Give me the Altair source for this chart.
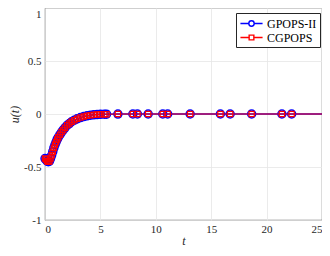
import altair as alt
import pandas as pd

series = ["GPOPS-II", "CGPOPS"]
colors = ["#0000ff", "#ff0000"]

t_vals = [0.0, 0.1, 0.2, 0.3, 0.4, 0.5, 0.6, 0.7, 0.8, 0.9, 1.0, 1.1, 1.2,
          1.35, 1.5, 1.65, 1.8, 2.0, 2.2, 2.4, 2.65, 2.9, 3.2, 3.5, 3.8,
          4.1, 4.4, 4.7, 5.0, 5.35, 5.55, 6.58, 7.93, 8.34, 9.31, 10.63,
          11.07, 13.1, 15.83, 16.71, 18.65, 21.38, 22.26, 25.0]
u_gpops = [-0.42, -0.43, -0.445, -0.45, -0.445, -0.42, -0.39, -0.355, -0.32,
           -0.29, -0.265, -0.24, -0.22, -0.195, -0.17, -0.15, -0.13, -0.106,
           -0.09, -0.073, -0.058, -0.045, -0.034, -0.024, -0.017, -0.011,
           -0.008, -0.005, -0.003, -0.002, -0.0015, -0.0005, 0.0, 0.0, 0.0,
           0.0, 0.0, 0.0, 0.0, 0.0, 0.0, 0.0, 0.0, 0.0]
u_cgpops = [-0.42, -0.43, -0.445, -0.45, -0.445, -0.42, -0.39, -0.355, -0.32,
            -0.29, -0.265, -0.24, -0.22, -0.195, -0.17, -0.15, -0.13, -0.106,
            -0.09, -0.073, -0.058, -0.045, -0.034, -0.024, -0.017, -0.011,
            -0.008, -0.005, -0.003, -0.002, -0.0015, -0.0005, 0.0, 0.0, 0.0,
            0.0, 0.0, 0.0, 0.0, 0.0, 0.0, 0.0, 0.0, 0.0]
x_ticks = [0, 5, 10, 15, 20, 25]
y_ticks = [-1, -0.5, 0, 0.5, 1]

rows = []
for name, us in zip(series, [u_gpops, u_cgpops]):
    for t, u in zip(t_vals, us):
        rows.append({"t": t, "u": u, "series": name})
df = pd.DataFrame(rows)

FONT = "Liberation Serif"

x = alt.X("t:Q", scale=alt.Scale(domain=[0, 25], nice=False),
          axis=alt.Axis(values=x_ticks, title="t", titleFontStyle="italic",
                        labelPadding=3, titlePadding=1))
y = alt.Y("u:Q", scale=alt.Scale(domain=[-1, 1], nice=False),
          axis=alt.Axis(values=y_ticks, title="u(t)", titleFontStyle="italic",
                        labelExpr="'' + datum.value", labelPadding=4,
                        titlePadding=2,
                        labelBaseline={"condition": {"test": "datum.value == 1",
                                                     "value": "top"},
                                       "value": "middle"}))

base = alt.Chart(df)

line_g = base.transform_filter("datum.series == 'GPOPS-II'").mark_line(
    color=colors[0], strokeWidth=1.5).encode(x=x, y=y)
pts_g = base.transform_filter("datum.series == 'GPOPS-II' && datum.t < 24").mark_point(
    shape="circle", filled=False, color=colors[0], size=64, strokeWidth=1.5,
    opacity=1).encode(x=x, y=y)
line_c = base.transform_filter("datum.series == 'CGPOPS'").mark_line(
    color=colors[1], strokeWidth=1).encode(x=x, y=y)
pts_c = base.transform_filter("datum.series == 'CGPOPS' && datum.t < 24").mark_point(
    shape="square", filled=False, color=colors[1], size=28, strokeWidth=1.2,
    opacity=1).encode(x=x, y=y)

circ_path = "M-1.65,0L-0.4,0M0.4,0L1.65,0M-0.4,0A0.4,0.4,0,1,1,0.4,0A0.4,0.4,0,1,1,-0.4,0Z"
sq_path = "M-1.65,0L-0.35,0M0.35,0L1.65,0M-0.35,-0.35L0.35,-0.35L0.35,0.35L-0.35,0.35Z"

leg = alt.Legend(orient="none", legendX=191, legendY=5, title=None,
                 padding=3, strokeColor="#262626", fillColor="white",
                 symbolSize=180, symbolStrokeWidth=1.4, labelFont=FONT,
                 labelFontSize=12, labelColor="#000000", rowPadding=0,
                 labelOffset=8, symbolOffset=5, symbolOpacity=1, cornerRadius=0)

legend_layer = base.transform_filter("false").mark_point(
    filled=False, strokeWidth=1.4, opacity=1).encode(
    x=x, y=y,
    color=alt.Color("series:N", scale=alt.Scale(domain=series, range=colors),
                    legend=leg),
    shape=alt.Shape("series:N", scale=alt.Scale(domain=series,
                                                 range=[circ_path, sq_path]),
                    legend=leg),
)

chart = alt.layer(line_g, pts_g, line_c, pts_c, legend_layer).properties(
    width=277, height=212,
    autosize=alt.AutoSizeParams(type="none"),
    padding={"left": 37, "top": 0, "right": 0, "bottom": 28},
).configure_view(
    stroke="#262626", strokeWidth=0.8
).configure_axis(
    domain=False, ticks=False, grid=True, gridColor="#e6e6e6",
    gridWidth=0.8, labelFont=FONT, labelFontSize=11, labelColor="#262626",
    titleFont=FONT, titleFontSize=12, titleFontWeight="normal",
    titleColor="#262626"
)

chart.save("out.html", embed_options={"renderer": "svg", "actions": False})
